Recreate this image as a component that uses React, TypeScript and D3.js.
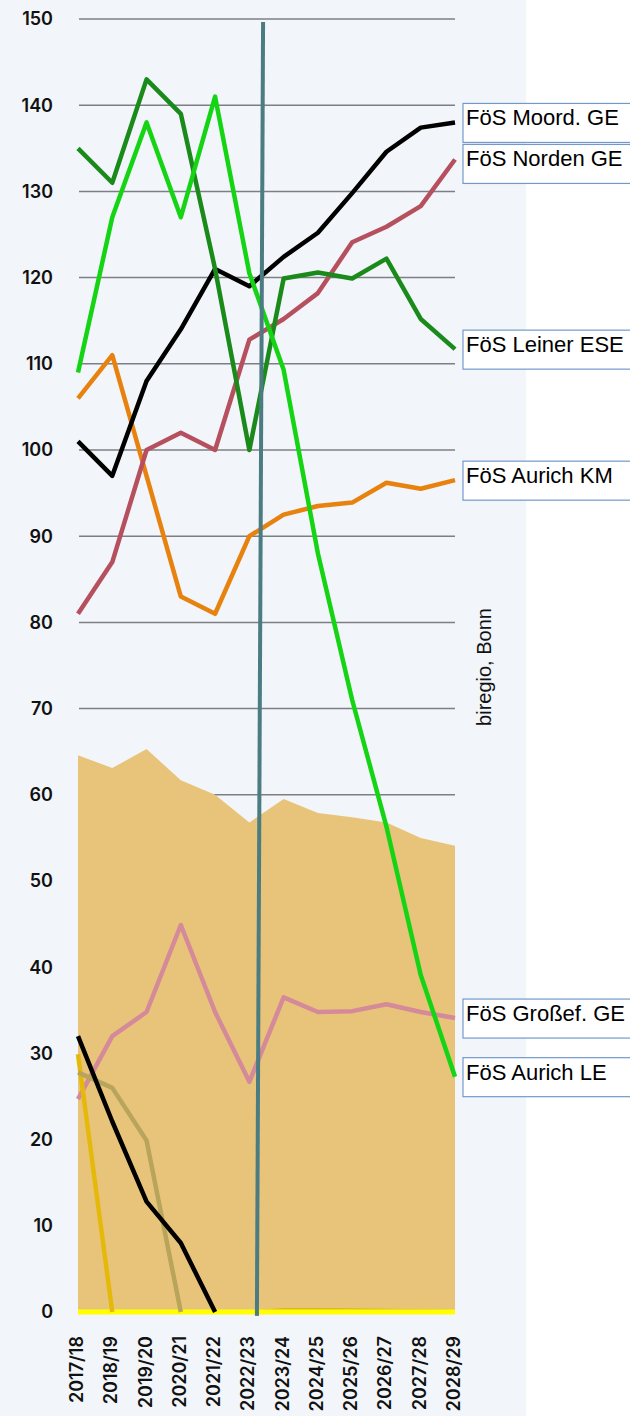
import * as d3 from "d3";

const jahre = ["2017/18", "2018/19", "2019/20", "2020/21", "2021/22", "2022/23", "2023/24", "2024/25", "2025/26", "2026/27", "2027/28", "2028/29"];
const yTicks = [0, 10, 20, 30, 40, 50, 60, 70, 80, 90, 100, 110, 120, 130, 140, 150];

// Fläche (gesamt)
const flaeche = [64.6, 63.1, 65.3, 61.7, 60, 56.8, 59.5, 57.9, 57.4, 56.8, 55.0, 54.1];

type Reihe = { name: string; farbe: string; breite: number; werte: (number | null)[] };

const moordGE = [101, 97, 108, 114, 121, 119, 122.4, 125.2, 129.8, 134.6, 137.4, 138];
const nordenGE = [81, 87, 100, 102, 100, 112.8, 115.2, 118.2, 124.1, 125.9, 128.3, 133.7];
const leinerESE = [135, 131, 143, 139, 121, 100, 119.9, 120.6, 119.9, 122.2, 115.2, 111.7];
const aurichLE = [109, 127, 138, 127, 141, 120.5, 109.3, 88, 71, 56.3, 39.1, 27.3];
const aurichKM = [106, 111, 97, 83, 81, 90, 92.5, 93.5, 93.9, 96.2, 95.5, 96.5];
const grossefGE = [24.7, 32, 34.8, 44.9, 34.8, 26.7, 36.5, 34.8, 34.9, 35.7, 34.8, 34.1];
const schwarz2 = [32, 22.1, 12.8, 8, 0, null, null, null, null, null, null, null];
const oliv = [27.8, 26, 19.9, 0, null, null, null, null, null, null, null, null];
const gold = [29.9, 0, null, null, null, null, null, null, null, null, null, null];
const goldNull = [null, null, null, null, null, 0, 0.3, 0.3, 0.25, 0.2, 0.15, 0.1];
const gelbNull = [0, 0, 0, 0, 0, 0, 0, 0, 0, 0, 0, 0];

const reihen: Reihe[] = [
  { name: "", farbe: "#e2b41a", breite: 3, werte: goldNull },
  { name: "", farbe: "#ffff00", breite: 5, werte: gelbNull },
  { name: "FöS Großef. GE", farbe: "#d48a99", breite: 4.5, werte: grossefGE },
  { name: "", farbe: "#e5b90a", breite: 4.5, werte: gold },
  { name: "", farbe: "#b9a45c", breite: 4.5, werte: oliv },
  { name: "", farbe: "#000000", breite: 4.5, werte: schwarz2 },
  { name: "FöS Aurich KM", farbe: "#e8820e", breite: 4.5, werte: aurichKM },
  { name: "FöS Norden GE", farbe: "#b6505e", breite: 4.5, werte: nordenGE },
  { name: "FöS Moord. GE", farbe: "#000000", breite: 4.5, werte: moordGE },
  { name: "FöS Leiner ESE", farbe: "#1a8a1a", breite: 4.5, werte: leinerESE },
  { name: "FöS Aurich LE", farbe: "#14d414", breite: 4.5, werte: aurichLE },
];

// Markierung aktuelles Schuljahr (Index-Position oben / unten, Wert oben / unten)
const markerIndex = [5.4, 5.22];
const markerWert = [149.65, -0.45];

const labelReihenfolge = ["FöS Moord. GE", "FöS Norden GE", "FöS Leiner ESE", "FöS Aurich KM", "FöS Großef. GE", "FöS Aurich LE"];

export default function App() {
  const W = 630;
  const H = 1416;
  const x = d3.scalePoint<string>().domain(jahre).range([78, 455]);
  const xi = d3.scaleLinear().domain([0, jahre.length - 1]).range([78, 455]);
  const y = d3.scaleLinear().domain([0, 150]).range([1312, 19]);

  const linie = d3
    .line<number | null>()
    .defined((d) => d !== null)
    .x((_, i) => x(jahre[i]) as number)
    .y((d) => y(d as number));

  const area = d3
    .area<number>()
    .x((_, i) => x(jahre[i]) as number)
    .y0(y(0))
    .y1((d) => y(d));

  // Beschriftungen ohne Überlappung
  const boxH = 39;
  const labels: { name: string; top: number }[] = [];
  const endWerte = labelReihenfolge.map((n) => {
    const r = reihen.find((r) => r.name === n)!;
    return { name: n, yEnd: y(r.werte[r.werte.length - 1] as number) };
  });
  endWerte.sort((a, b) => a.yEnd - b.yEnd);
  let minTop = -Infinity;
  endWerte.forEach((e) => {
    const top = Math.max(e.yEnd - 19, minTop);
    labels.push({ name: e.name, top });
    minTop = top + boxH + 2;
  });

  const tickFont = "Inter, 'Open Sans', sans-serif";

  return (
    <svg width={W} height={H} style={{ position: "absolute", left: 0, top: 0 }} fontFamily={tickFont}>
      <rect x={0} y={0} width={W} height={H} fill="#ffffff" />
      <rect x={0} y={0} width={526} height={H} fill="#f2f5f9" />

      {yTicks
        .filter((t) => t > 0)
        .map((t) => (
          <line key={t} x1={79} x2={455} y1={y(t)} y2={y(t)} stroke="#7d7f84" strokeWidth={1.5} />
        ))}

      {yTicks.map((t) => (
        <text key={t} x={53} y={y(t)} dy="0.36em" textAnchor="end" fontSize={18} fontWeight={600} fill="#111">
          {t}
        </text>
      ))}

      <path d={area(flaeche) ?? ""} fill="#e8c47b" />

      {reihen.map((r, i) => (
        <path
          key={i}
          d={linie(r.werte) ?? ""}
          fill="none"
          stroke={r.farbe}
          strokeWidth={r.breite}
          strokeLinejoin="round"
          strokeLinecap="butt"
        />
      ))}

      <line
        x1={xi(markerIndex[0])}
        x2={xi(markerIndex[1])}
        y1={y(markerWert[0])}
        y2={y(markerWert[1])}
        stroke="#4a7c82"
        strokeWidth={4}
      />

      {jahre.map((j) => (
        <text
          key={j}
          transform={`translate(${(x(j) as number) + 5},1336) rotate(-90)`}
          textAnchor="end"
          fontSize={18}
          fontWeight={600}
          fill="#111"
        >
          {j}
        </text>
      ))}

      <text
        transform="translate(491,667) rotate(-90)"
        textAnchor="middle"
        fontFamily="'Liberation Sans', Arial, sans-serif"
        fontSize={20}
        fill="#111"
      >
        biregio, Bonn
      </text>

      {labels.map((l) => (
        <g key={l.name} transform={`translate(463,${l.top})`}>
          <rect x={0} y={0} width={170} height={boxH} fill="#ffffff" stroke="#7399cc" strokeWidth={1.2} />
          <text x={3} y={22} fontFamily="'Liberation Sans', Arial, sans-serif" fontSize={22} fill="#000">
            {l.name}
          </text>
        </g>
      ))}
    </svg>
  );
}
